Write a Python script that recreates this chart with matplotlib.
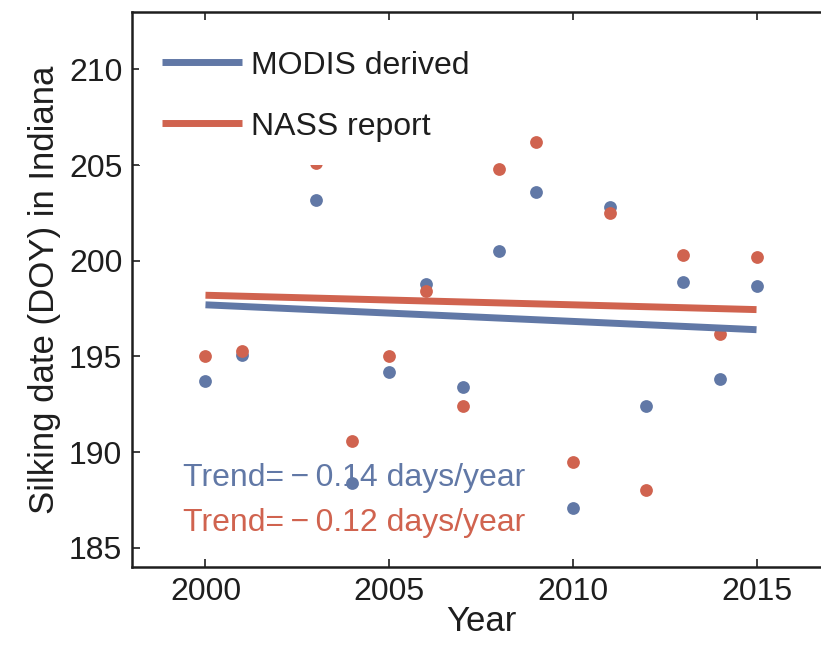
import matplotlib
matplotlib.use("Agg")
import matplotlib.pyplot as plt

years = [2000, 2001, 2003, 2004, 2005, 2006, 2007, 2008, 2009, 2010, 2011, 2012, 2013, 2014, 2015]
modis = [193.7, 195.1, 203.2, 188.4, 194.2, 198.8, 193.4, 200.5, 203.6, 187.1, 202.8, 192.4, 198.9, 193.8, 198.7]
nass = [195.0, 195.3, 205.1, 190.6, 195.0, 198.4, 192.4, 204.8, 206.2, 189.5, 202.5, 188.0, 200.3, 196.2, 200.2]

trend_years = [2000, 2015]
modis_trend = [197.7, 196.4]
nass_trend = [198.2, 197.45]

xticks = [2000, 2005, 2010, 2015]
yticks = [185, 190, 195, 200, 205, 210]

blue = "#6178a6"
red = "#d0634f"
dark = "#1e1e1e"

plt.rcParams["font.family"] = ["Liberation Sans", "DejaVu Sans"]

fig = plt.figure(figsize=(8.21, 6.51), dpi=100)
ax = fig.add_axes([132 / 821, 84 / 651, 698 / 821, 555 / 651])

ax.plot(years, modis, "o", color=blue, ms=9.2, mec="none", zorder=2)
ax.plot(years, nass, "o", color=red, ms=9.2, mec="none", zorder=2)
l1, = ax.plot(trend_years, modis_trend, "-", color=blue, lw=5, solid_capstyle="butt", zorder=2.5, label="MODIS derived")
l2, = ax.plot(trend_years, nass_trend, "-", color=red, lw=5, solid_capstyle="butt", zorder=2.5, label="NASS report")

ax.set_xlim(1998, 2017)
ax.set_ylim(184, 213)
ax.set_xticks(xticks)
ax.set_yticks(yticks)
ax.set_xticklabels([str(t) for t in xticks], fontsize=23)
ax.set_yticklabels([str(t) for t in yticks], fontsize=23)
ax.tick_params(direction="in", length=6, width=1.2, top=True, right=False, colors=dark, pad=7)
for s in ["left", "bottom", "top"]:
    ax.spines[s].set_linewidth(1.8)
    ax.spines[s].set_color(dark)
ax.spines["right"].set_visible(False)

ax.set_xlabel("Year", fontsize=25, color=dark, labelpad=-1)
ax.set_ylabel("Silking date (DOY) in Indiana", fontsize=25, color=dark, labelpad=6)

leg = ax.legend(handles=[l1, l2], loc="upper left", bbox_to_anchor=(-0.008, 0.995),
                fontsize=23, frameon=True, framealpha=1, edgecolor="none", fancybox=False,
                handlelength=2.5, handletextpad=0.28, labelspacing=0.97, borderpad=0.72,
                borderaxespad=0.4)
leg.set_zorder(5)
for t in leg.get_texts():
    t.set_color(dark)

ax.text(0.073, 0.146, "Trend=\u2009\u2212\u20090.14 days/year", transform=ax.transAxes, color=blue,
        fontsize=23, va="baseline", ha="left", zorder=6)
ax.text(0.073, 0.065, "Trend=\u2009\u2212\u20090.12 days/year", transform=ax.transAxes, color=red,
        fontsize=23, va="baseline", ha="left", zorder=6)

fig.savefig("out.png", dpi=100)
